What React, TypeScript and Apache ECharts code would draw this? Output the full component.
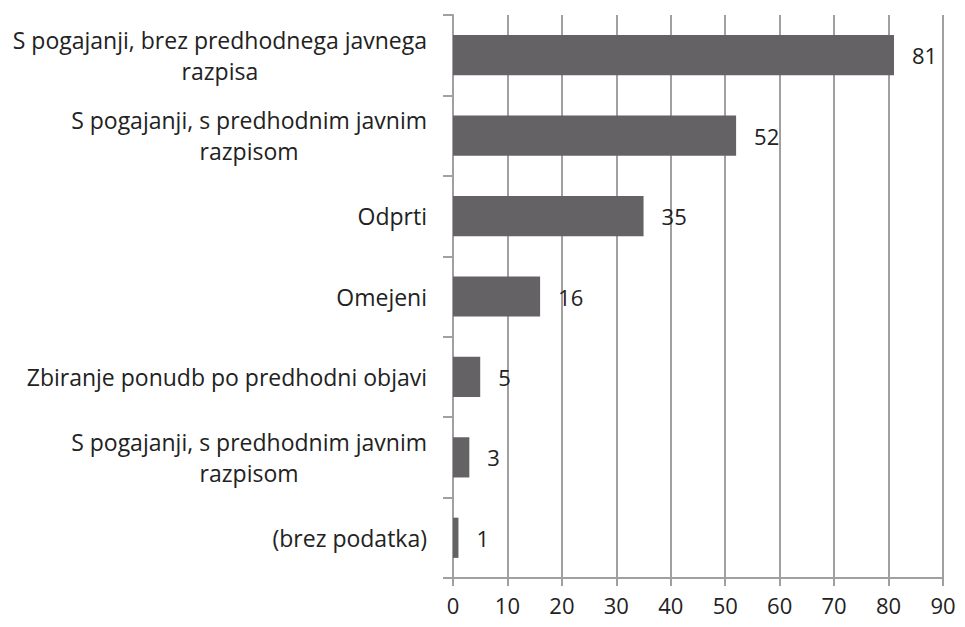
import React, { useEffect, useRef } from "react";
import * as echarts from "echarts";

const categories: string[][] = [
  ["S pogajanji, brez predhodnega javnega", "razpisa"],
  ["S pogajanji, s predhodnim javnim", "razpisom"],
  ["Odprti"],
  ["Omejeni"],
  ["Zbiranje ponudb po predhodni objavi"],
  ["S pogajanji, s predhodnim javnim", "razpisom"],
  ["(brez podatka)"],
];
const values: number[] = [81, 52, 35, 16, 5, 3, 1];
const axisMin = 0;
const axisMax = 90;
const axisStep = 10;

const FONT = "'Open Sans', 'Noto Sans', sans-serif";

export default function App() {
  const ref = useRef<HTMLDivElement>(null);
  useEffect(() => {
    if (!ref.current) return;
    const chart = echarts.init(ref.current, undefined, { renderer: "svg" });
    const catKeys = categories.map((_, i) => String(i));
    chart.setOption({
      animation: false,
      backgroundColor: "#ffffff",
      grid: { left: 453, right: 22, top: 15, bottom: 49, containLabel: false },
      xAxis: {
        type: "value",
        min: axisMin,
        max: axisMax,
        interval: axisStep,
        axisLine: { show: true, lineStyle: { color: "#a0a0a0", width: 2 } },
        axisTick: { show: true, length: 8, lineStyle: { color: "#a0a0a0", width: 2 } },
        splitLine: { show: true, lineStyle: { color: "#a0a0a0", width: 2 } },
        axisLabel: { color: "#222", fontSize: 22, fontFamily: FONT, margin: 16 },
      },
      yAxis: {
        type: "category",
        inverse: true,
        data: catKeys,
        axisLine: { show: true, lineStyle: { color: "#a0a0a0", width: 2 } },
        axisTick: { show: true, length: 10, lineStyle: { color: "#a0a0a0", width: 2 } },
        splitLine: { show: false },
        axisLabel: {
          margin: 26,
          color: "#222",
          fontSize: 23,
          fontFamily: FONT,
          lineHeight: 31,
          formatter: (v: string) => {
            const lines = categories[Number(v)];
            return lines.map((l) => "{c|" + l + "}").join("\n");
          },
          rich: {
            c: { align: "center", color: "#222", fontSize: 23, fontFamily: FONT, lineHeight: 31 },
          },
        },
      },
      series: [
        {
          type: "bar",
          data: values,
          barWidth: "50%",
          itemStyle: { color: "#646264" },
          label: {
            show: true,
            position: "right",
            distance: 18,
            color: "#222",
            fontSize: 22,
            fontFamily: FONT,
          },
        },
      ],
    });
    return () => chart.dispose();
  }, []);
  return <div ref={ref} style={{ width: 965, height: 627, position: "absolute", left: 0, top: 0 }} />;
}
